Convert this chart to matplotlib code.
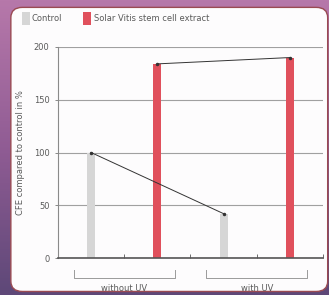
import matplotlib.pyplot as plt
from matplotlib.patches import FancyBboxPatch
from matplotlib.colors import LinearSegmentedColormap
import numpy as np

# data
groups = ["without UV", "with UV"]
series = ["Control", "Solar Vitis stem cell extract"]
control_vals = [100, 42]
extract_vals = [184, 190]
yticks = [0, 50, 100, 150, 200]

gray = "#d6d6d6"
red = "#e0505c"

fig = plt.figure(figsize=(3.29, 2.95), dpi=100)

# purple backdrop with a white rounded panel
bg = fig.add_axes([0, 0, 1, 1], zorder=-10)
bg.axis("off")
cmap = LinearSegmentedColormap.from_list("bgc", ["#b678aa", "#905c94", "#5e4878"])
grad = np.linspace(0, 1, 100).reshape(-1, 1) * np.ones((1, 10))
bg.imshow(grad, cmap=cmap, aspect="auto", extent=[0, 1, 0, 1], origin="upper")
bg.set_xlim(0, 1)
bg.set_ylim(0, 1)
panel = FancyBboxPatch((0.033, 0.012), 0.963, 0.963,
                       boxstyle="round,pad=0,rounding_size=0.035",
                       fc="#fdfcfd", ec="#9a4a52", lw=1.0)
bg.add_patch(panel)

ax = fig.add_axes([0.176, 0.1254, 0.806, 0.7153])
ax.set_facecolor("none")

x_ctrl = [0, 2]
x_ext = [1, 3]
w = 0.12
ax.bar(x_ctrl, control_vals, width=w, color=gray, zorder=2)
ax.bar(x_ext, extract_vals, width=w, color=red, zorder=2)
ax.plot(x_ctrl, control_vals, color="#333333", lw=0.7, marker="o", ms=1.5, zorder=3)
ax.plot(x_ext, extract_vals, color="#333333", lw=0.7, marker="o", ms=1.5, zorder=3)

ax.set_xlim(-0.5, 3.5)
ax.set_ylim(0, 200)
ax.set_yticks(yticks)
ax.set_yticklabels([str(v) for v in yticks], fontsize=6, color="#5a5a5a")
ax.yaxis.grid(True, color="#a0a0a0", lw=0.8, zorder=1)
ax.tick_params(axis="y", length=2, width=0.6, color="#777777", pad=4)
ax.set_xticks([0.5, 1.5, 2.5, 3.5])
ax.set_xticklabels([])
ax.tick_params(axis="x", direction="in", length=3, width=0.6, color="#555555")
for s in ["top", "right"]:
    ax.spines[s].set_visible(False)
ax.spines["left"].set_color("#8a8a8a")
ax.spines["left"].set_linewidth(0.8)
ax.spines["bottom"].set_color("#555555")
ax.spines["bottom"].set_linewidth(1.2)
ax.set_ylabel("CFE compared to control in %", fontsize=6, color="#5a5a5a", labelpad=6)

# group brackets under the axis
for (x0, x1), name in zip([(-0.26, 1.26), (1.74, 3.26)], groups):
    ax.plot([x0, x0, x1, x1], [-11.5, -19, -19, -11.5], color="#9a9a9a", lw=0.7, clip_on=False)
    ax.text((x0 + x1) / 2, -29, name, fontsize=6, color="#5a5a5a", ha="center", va="center",
            clip_on=False)

# legend at the top
fig.patches.append(plt.Rectangle((0.067, 0.915), 0.024, 0.045, transform=fig.transFigure,
                                 fc=gray, ec="none"))
fig.text(0.097, 0.938, series[0], fontsize=6, color="#5a5a5a", va="center")
fig.patches.append(plt.Rectangle((0.252, 0.915), 0.024, 0.045, transform=fig.transFigure,
                                 fc=red, ec="none"))
fig.text(0.287, 0.938, series[1], fontsize=6, color="#5a5a5a", va="center")

fig.savefig("out.png", dpi=100)
